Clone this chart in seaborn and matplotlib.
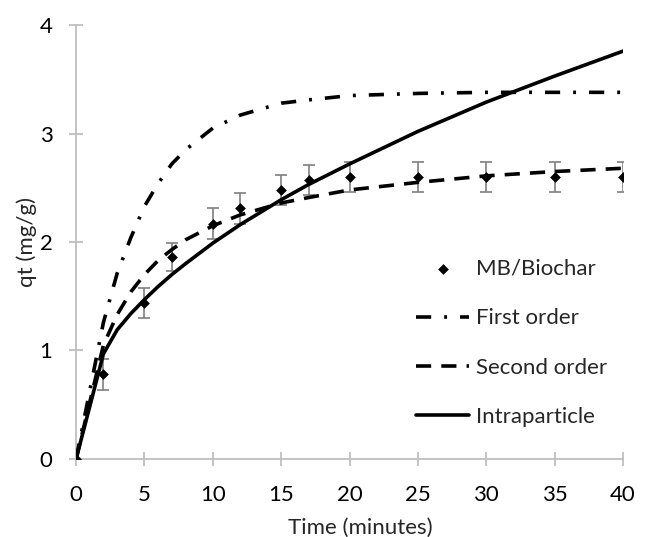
import numpy as np
import pandas as pd
import matplotlib
matplotlib.use("Agg")
import matplotlib.pyplot as plt
import seaborn as sns

time_obs = [0, 2, 5, 7, 10, 12, 15, 17, 20, 25, 30, 35, 40]
qt_obs = [0.0, 0.78, 1.44, 1.86, 2.17, 2.31, 2.48, 2.57, 2.60, 2.60, 2.60, 2.60, 2.60]
qt_err = [0.14, 0.14, 0.14, 0.13, 0.14, 0.14, 0.14, 0.14, 0.14, 0.14, 0.14, 0.14, 0.14]

# model curves
time_fit = [0, 2, 3, 4, 5, 6, 7, 8, 10, 12, 15, 17, 20, 25, 30, 35, 40]
qt_first = [0.0, 1.26, 1.71, 2.04, 2.33, 2.54, 2.72, 2.85, 3.05, 3.17, 3.28, 3.31, 3.35, 3.37, 3.38, 3.38, 3.38]
qt_second = [0.0, 1.05, 1.33, 1.54, 1.70, 1.83, 1.93, 2.02, 2.15, 2.25, 2.36, 2.41, 2.48, 2.55, 2.61, 2.65, 2.68]
qt_intra = [0.0, 0.97, 1.19, 1.34, 1.47, 1.59, 1.70, 1.80, 1.99, 2.16, 2.39, 2.53, 2.72, 3.02, 3.29, 3.53, 3.76]

sns.set_style("white")
plt.rcParams["font.family"] = ["Lato", "DejaVu Sans"]

fig = plt.figure(figsize=(6.45, 5.37), dpi=100)
ax = fig.add_axes([0.118, 0.1453, 0.848, 0.808])

axis_grey = "#BFBFBF"
fs = 16

# error bars behind the curves
ax.errorbar(time_obs, qt_obs, yerr=qt_err, fmt="none", ecolor="#7F7F7F",
            elinewidth=1.2, capsize=4, capthick=1.2, zorder=2)

lw = 2.6
sns.lineplot(x=time_fit, y=qt_first, ax=ax, color="black", lw=lw,
             linestyle=(0, (4.2, 3.6, 0.8, 3.6)), label="First order", zorder=3)
sns.lineplot(x=time_fit, y=qt_second, ax=ax, color="black", lw=lw,
             linestyle=(0, (4.2, 2.8)), label="Second order", zorder=3)
sns.lineplot(x=time_fit, y=qt_intra, ax=ax, color="black", lw=lw,
             linestyle="-", label="Intraparticle", zorder=3)
sns.scatterplot(x=time_obs, y=qt_obs, ax=ax, marker="D", s=30, color="black",
                edgecolor="black", linewidth=0, label="MB/Biochar", zorder=4)

ax.set_xlim(0, 40)
ax.set_ylim(0, 4)
ax.set_xticks(range(0, 45, 5))
ax.set_yticks(range(0, 5))

for side in ["top", "right"]:
    ax.spines[side].set_visible(False)
for side in ["left", "bottom"]:
    ax.spines[side].set_color(axis_grey)
    ax.spines[side].set_linewidth(1.3)

ax.tick_params(axis="both", direction="inout", length=10, width=1.3,
               color=axis_grey, labelsize=fs, labelcolor="black")
ax.tick_params(axis="y", left=True, pad=12)
ax.tick_params(axis="x", bottom=True, pad=14)

ax.set_xlabel("Time (minutes)", fontsize=fs)
ax.xaxis.set_label_coords(0.52, -0.135)
ax.set_ylabel("qt (mg/g)", fontsize=fs, labelpad=2)

handles, labels = ax.get_legend_handles_labels()
order = [labels.index(n) for n in ["MB/Biochar", "First order", "Second order", "Intraparticle"]]
ax.legend([handles[i] for i in order], [labels[i] for i in order],
          loc="upper left", bbox_to_anchor=(0.614, 0.555), bbox_transform=fig.transFigure,
          frameon=False, fontsize=fs, labelspacing=1.32, handlelength=2.4,
          handletextpad=0.3)

fig.savefig("out.png", dpi=100)
